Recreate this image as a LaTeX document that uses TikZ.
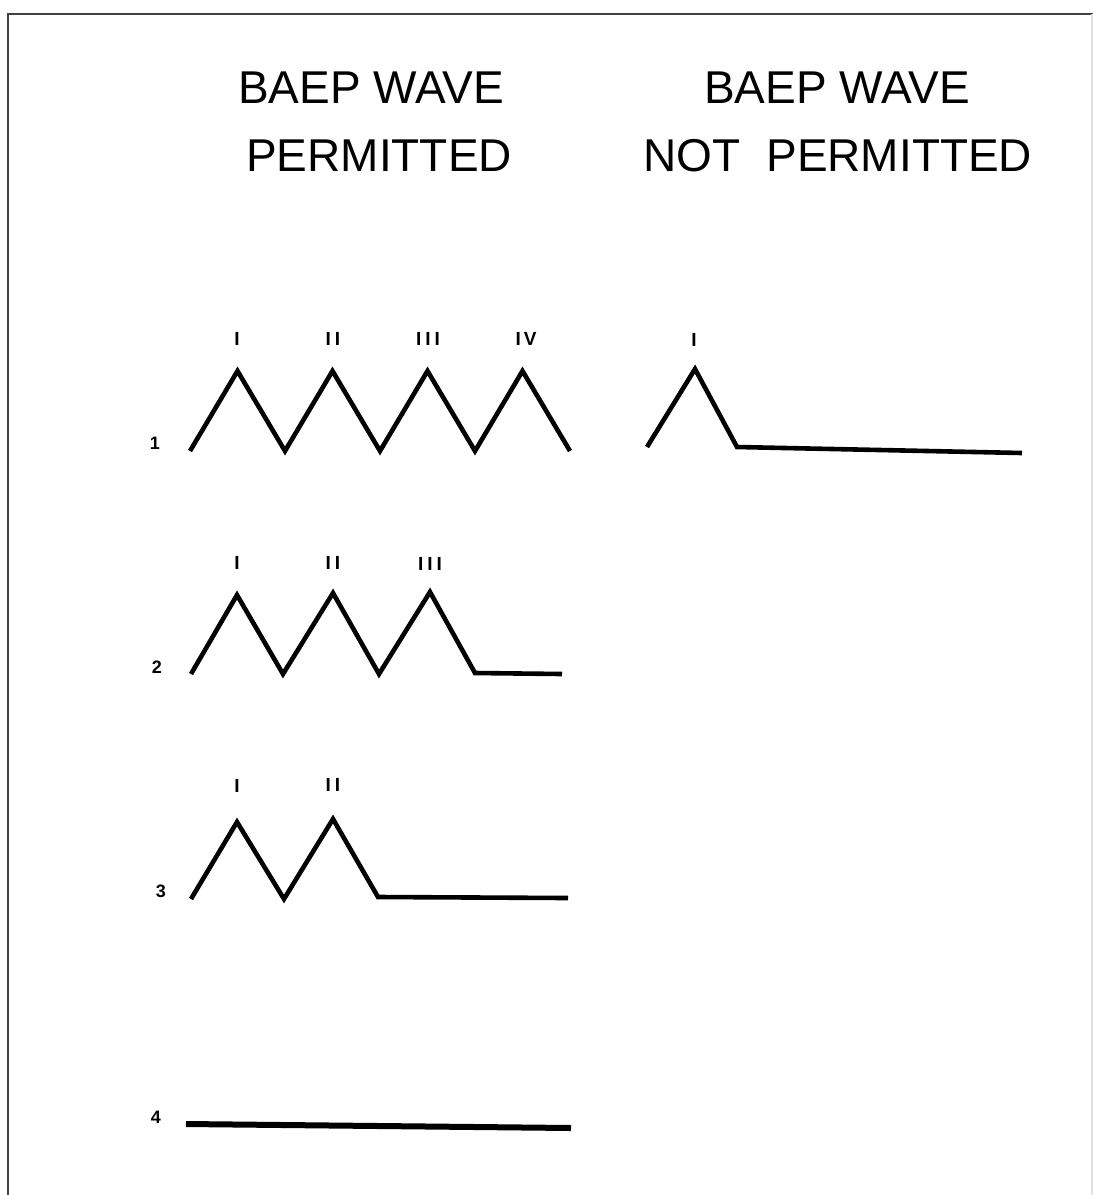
\documentclass[tikz,border=0pt]{standalone}
\usepackage{fontspec}
\setmainfont{Liberation Sans}
\begin{document}
\begin{tikzpicture}[x=1pt,y=-1pt,
  wave/.style={line width=4.6pt,line join=miter,line cap=butt},
  flat/.style={line width=6pt,line cap=butt},
  title/.style={font=\fontsize{46}{50}\selectfont,inner sep=0pt,anchor=center},
  roman/.style={font=\fontsize{19}{20}\selectfont\bfseries,inner sep=0pt,anchor=center},
  rownum/.style={font=\fontsize{18}{18}\selectfont\bfseries,inner sep=0pt,anchor=center}]
\useasboundingbox (0,0) rectangle (1093,1195);
\fill[white] (0,0) rectangle (1093,1195);
% frame
\draw[line width=2.2pt,black!75] (8,1195) -- (8,14) -- (1093,14);
\draw[line width=1.5pt,black!12] (1092,14) -- (1092,1195);
% titles
\node[title] (t1) at (371,88) {BAEP WAVE};
\node[title] (t2) at (379,156) {PERMITTED};
\node[title] (t3) at (837,88) {BAEP WAVE};
\node[title] (t4) at (838,156) {NOT\ \ PERMITTED};
% row 1
\node[rownum] (n1) at (155,443) {1};
\draw[wave] (190,451) -- (237.5,371) -- (285,451) -- (332.5,371) -- (380,451) -- (427.5,371) -- (475,451) -- (522.5,371) -- (570,451);
\node[roman] (r1a) at (237,339) {I};
\node[roman] (r1b) at (333,339) {I\kern4pt I};
\node[roman] (r1c) at (428,339) {I\kern4pt I\kern4pt I};
\node[roman] (r1d) at (526,339) {I\kern3pt V};
% row 1 not permitted
\draw[wave] (647,447) -- (695,369) -- (737,447) -- (1022,453);
\node[roman] (r1e) at (694,340) {I};
% row 2
\node[rownum] (n2) at (157,667) {2};
\draw[wave] (191,674) -- (237,595) -- (283,674) -- (333,593) -- (379,674) -- (430,592) -- (475,673) -- (562,674);
\node[roman] (r2a) at (237,563) {I};
\node[roman] (r2b) at (333,563) {I\kern4pt I};
\node[roman] (r2c) at (430,564) {I\kern4pt I\kern4pt I};
% row 3
\node[rownum] (n3) at (161,891) {3};
\draw[wave] (191,899) -- (237,822) -- (284,899) -- (333,819) -- (378,897) -- (568,898);
\node[roman] (r3a) at (237,786) {I};
\node[roman] (r3b) at (333,785) {I\kern4pt I};
% row 4
\node[rownum] (n4) at (156,1117) {4};
\draw[flat] (186,1124) -- (571,1128);
\end{tikzpicture}
\end{document}
